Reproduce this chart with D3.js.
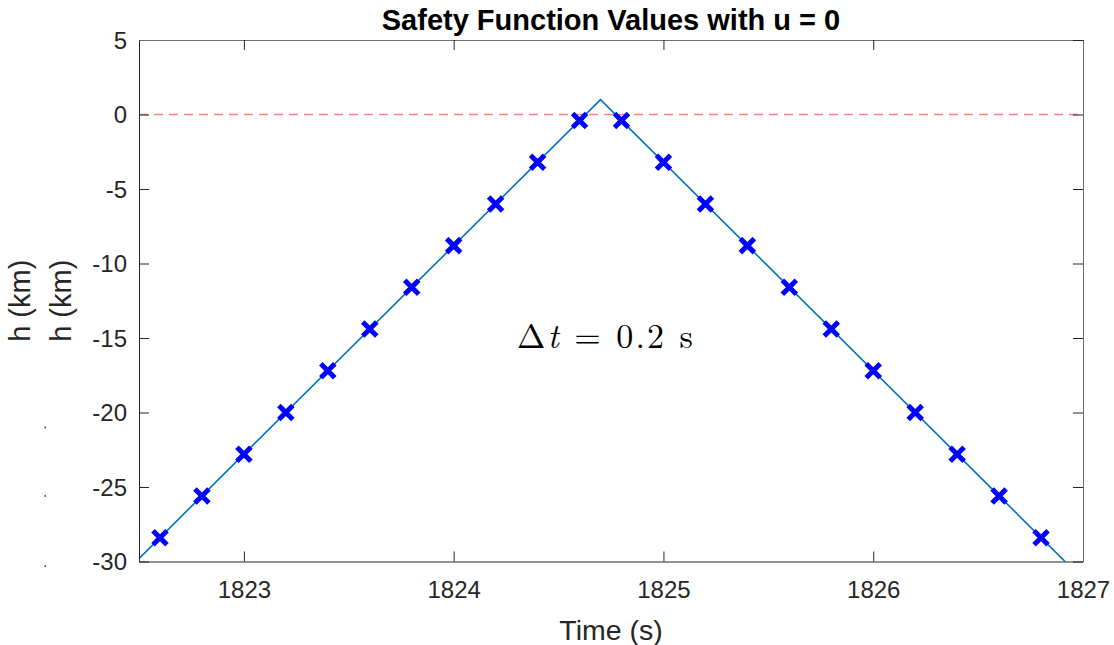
<!DOCTYPE html>
<html>
<head>
<meta charset="utf-8">
<script src="https://cdn.jsdelivr.net/npm/d3@7"></script>
<style>
  body { margin: 0; background: #fff; }
  text { font-family: "Liberation Sans", Arial, sans-serif; fill: #262626; }
</style>
</head>
<body>
<div id="chart"></div>
<script>
// data
var lineTime = [1822.4, 1824.7, 1827.0];
var lineH = [-31.2, 1.0, -31.2];
var markerTime = [1822.6, 1822.8, 1823.0, 1823.2, 1823.4, 1823.6, 1823.8, 1824.0, 1824.2, 1824.4, 1824.6,
                  1824.8, 1825.0, 1825.2, 1825.4, 1825.6, 1825.8, 1826.0, 1826.2, 1826.4, 1826.6, 1826.8];
var markerH = [-28.4, -25.6, -22.8, -20.0, -17.2, -14.4, -11.6, -8.8, -6.0, -3.2, -0.4,
               -0.4, -3.2, -6.0, -8.8, -11.6, -14.4, -17.2, -20.0, -22.8, -25.6, -28.4];
var xTicks = [1823, 1824, 1825, 1826, 1827];
var yTicks = [-30, -25, -20, -15, -10, -5, 0, 5];
var strayDots = [-21.0, -25.6, -30.3];  // leftover specks left of the axis

var W = 1114, H = 645;
var margin = {top: 40, right: 31, bottom: 83.5, left: 139};
var width = W - margin.left - margin.right,
    height = H - margin.top - margin.bottom;

var xScale = d3.scaleLinear().domain([1822.5, 1827]).range([0, width]),
    yScale = d3.scaleLinear().domain([-30, 5]).range([height, 0]);

var svg = d3.select("#chart").append("svg")
    .attr("width", W)
    .attr("height", H);

var g = svg.append("g")
    .attr("transform", "translate(" + margin.left + "," + margin.top + ")");

g.append("clipPath").attr("id", "clip")
  .append("rect").attr("width", width).attr("height", height);

// zero reference line
g.append("line")
    .attr("x1", 0).attr("x2", width)
    .attr("y1", yScale(0)).attr("y2", yScale(0))
    .attr("stroke", "#ff7f7f")
    .attr("stroke-width", 1.5)
    .attr("stroke-dasharray", "9,6");

// safety function line
var line = d3.line()
    .x(function(d, i) { return xScale(lineTime[i]); })
    .y(function(d) { return yScale(d); });

g.append("path")
    .datum(lineH)
    .attr("clip-path", "url(#clip)")
    .attr("fill", "none")
    .attr("stroke", "#0072bd")
    .attr("stroke-width", 1.6)
    .attr("d", line);

// x markers
var s = 7;
g.append("g").selectAll("path")
    .data(markerH)
  .enter().append("path")
    .attr("transform", function(d, i) {
      return "translate(" + xScale(markerTime[i]) + "," + yScale(d) + ")";
    })
    .attr("d", "M" + (-s) + "," + (-s) + "L" + s + "," + s + "M" + (-s) + "," + s + "L" + s + "," + (-s))
    .attr("stroke", "#0000ff")
    .attr("stroke-width", 5)
    .attr("fill", "none");

// axes, MATLAB style box with inward ticks
var tickLen = 10;
var hyphen = function(d) { return String(d); };  // plain hyphen minus like MATLAB
var xAxis = d3.axisBottom(xScale).tickValues(xTicks).tickSizeInner(-tickLen).tickSizeOuter(0).tickPadding(19).tickFormat(hyphen),
    yAxis = d3.axisLeft(yScale).tickValues(yTicks).tickSizeInner(-tickLen).tickSizeOuter(0).tickPadding(12).tickFormat(hyphen),
    xTop = d3.axisTop(xScale).tickValues(xTicks).tickSizeInner(-tickLen).tickSizeOuter(0).tickFormat(""),
    yRight = d3.axisRight(yScale).tickValues(yTicks).tickSizeInner(-tickLen).tickSizeOuter(0).tickFormat("");

var gX = g.append("g").attr("transform", "translate(0," + height + ")").call(xAxis);
var gY = g.append("g").call(yAxis);
var gT = g.append("g").call(xTop);
var gR = g.append("g").attr("transform", "translate(" + width + ",0)").call(yRight);

[gX, gY].forEach(function(a) {
  a.selectAll(".domain").attr("stroke", "#262626").attr("stroke-width", 1);
  a.selectAll(".tick line").attr("stroke", "#262626");
  a.selectAll(".tick text").style("font-size", "24px").attr("fill", "#262626")
    .style("font-family", "'Liberation Sans', Arial, sans-serif");
});
[gT, gR].forEach(function(a) {
  a.selectAll(".domain").attr("stroke", "#6e6e6e").attr("stroke-width", 1);
  a.selectAll(".tick line").attr("stroke", "#262626");
});
gY.selectAll(".tick text").attr("dy", "0.35em");

// title and labels
svg.append("text")
    .attr("x", margin.left + width / 2)
    .attr("y", 30)
    .attr("text-anchor", "middle")
    .style("font-size", "29px")
    .style("font-weight", "bold")
    .style("fill", "#000")
    .text("Safety Function Values with u = 0");

svg.append("text")
    .attr("x", margin.left + width / 2)
    .attr("y", 640)
    .attr("text-anchor", "middle")
    .style("font-size", "28.5px")
    .text("Time (s)");

[30, 71].forEach(function(bx) {
  svg.append("text")
      .attr("transform", "translate(" + bx + "," + (margin.top + height / 2) + ") rotate(-90)")
      .attr("text-anchor", "middle")
      .style("font-size", "29px")
      .text("h (km)");
});

svg.append("g").selectAll("rect")
    .data(strayDots)
  .enter().append("rect")
    .attr("x", 44.5)
    .attr("y", function(d) { return margin.top + yScale(d) - 1; })
    .attr("width", 1.5)
    .attr("height", 2)
    .attr("fill", "#555");

// annotation
var note = svg.append("text")
    .attr("x", 517)
    .attr("y", 348)
    .attr("textLength", 176)
    .attr("lengthAdjust", "spacing")
    .style("font-family", "'Latin Modern Roman', 'CMU Serif', 'Liberation Serif', serif")
    .style("font-size", "34px")
    .style("fill", "#000");
note.append("tspan").text("\u0394");
note.append("tspan").style("font-style", "italic").text("t");
note.append("tspan").text(" = 0.2 s");
</script>
</body>
</html>
